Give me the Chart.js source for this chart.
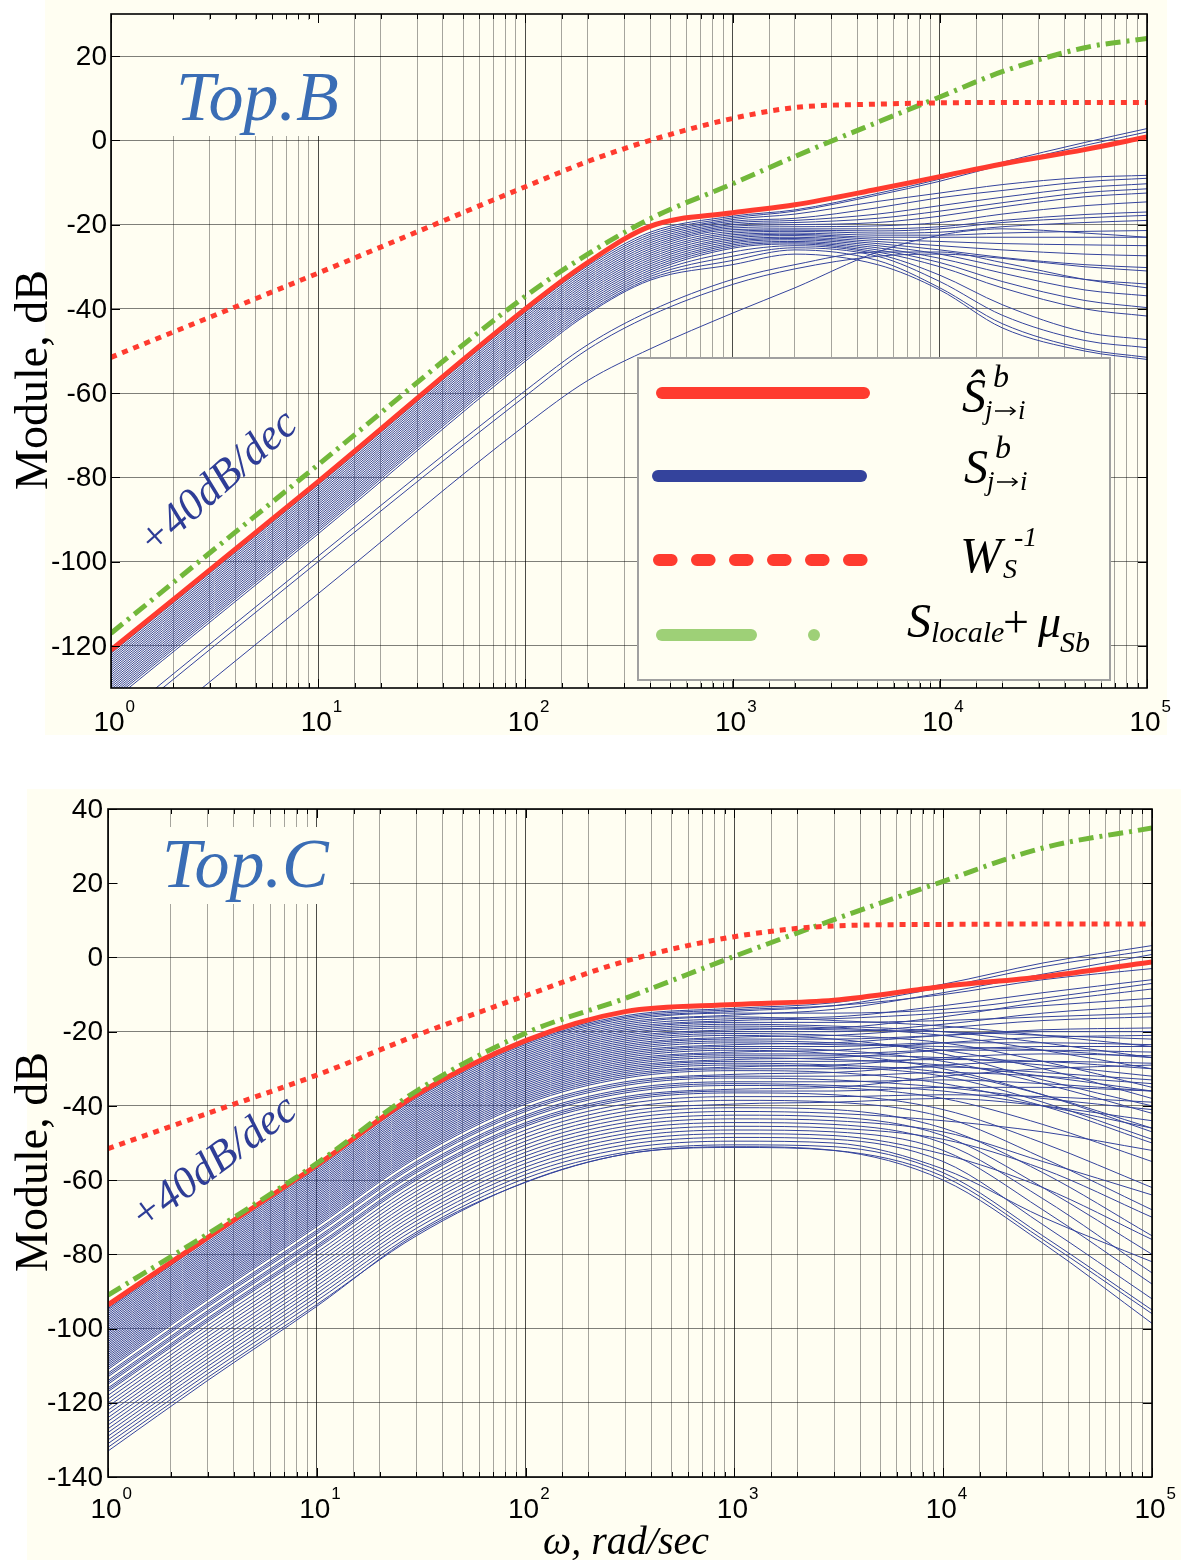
<!DOCTYPE html>
<html>
<head>
<meta charset="utf-8">
<script src="https://cdn.jsdelivr.net/npm/chart.js@4.4.1/dist/chart.umd.min.js"></script>
<style>
  html, body { margin: 0; padding: 0; background: #fff; }
  body { width: 1181px; height: 1560px; position: relative; overflow: hidden; }
  .panel { position: absolute; background: #FFFEF2; }
  .wrap { position: absolute; left: 0; width: 1181px; }
  canvas { display: block; }
</style>
</head>
<body>
<div class="panel" style="left:45px;top:0;width:1122px;height:735px"></div>
<div class="panel" style="left:27px;top:789px;width:1154px;height:771px"></div>
<div class="wrap" style="top:0;height:760px"><canvas id="chartB"></canvas></div>
<div class="wrap" style="top:760px;height:800px"><canvas id="chartC"></canvas></div>

<script>
// ---- données : Top.B ----
const W_TOP = [1, 10, 100, 200, 400, 1000, 2000, 5000, 1e4, 2e4, 5e4, 1e5];
const TOP_WS_INV   = [-51.5, -31.5, -11, -5, 0, 5.2, 7.8, 8.6, 8.9, 9, 9, 9];
const TOP_S_LOCALE = [-117, -77, -37, -27, -18.6, -10.3, -3.8, 4.3, 10.3, 16.3, 22, 24.2];
const TOP_S_HAT    = [-121, -81, -40, -29, -20.4, -17.2, -15.3, -11.6, -8.6, -5.6, -2.2, 0.8];
const TOP_S = [
  [-121.8, -81.8, -40.8, -29.8, -21.8, -18.0, -16.5, -12.6, -9.2, -5.2, -0.5, 2.8],
  [-122.3, -82.3, -41.3, -30.3, -22.3, -18.4, -16.8, -13.0, -9.7, -5.8, -1.2, 2.0],
  [-122.8, -82.8, -41.8, -30.8, -22.8, -18.8, -17.5, -14.5, -12.5, -10.5, -8.8, -8.3],
  [-123.3, -83.3, -42.3, -31.3, -23.3, -19.2, -18.5, -16.0, -13.6, -11.9, -9.8, -9.0],
  [-123.8, -83.8, -42.8, -31.8, -23.8, -19.6, -19.0, -17.5, -15.5, -13.5, -11.2, -10.3],
  [-124.3, -84.3, -43.3, -32.3, -24.3, -20.0, -19.5, -18.5, -16.8, -14.8, -12.4, -11.5],
  [-124.8, -84.8, -43.8, -32.8, -24.8, -20.4, -20.0, -19.5, -18.0, -15.8, -13.4, -12.5],
  [-125.3, -85.3, -44.3, -33.3, -25.3, -20.8, -20.5, -20.3, -19.5, -17.5, -15.5, -14.6],
  [-125.8, -85.8, -44.8, -33.8, -25.8, -21.2, -21.0, -21.0, -20.5, -19.0, -17.6, -17.0],
  [-126.3, -86.3, -45.3, -34.3, -26.3, -21.6, -21.3, -21.5, -21.0, -19.5, -18.4, -17.8],
  [-126.8, -86.8, -45.8, -34.8, -26.8, -22.0, -21.6, -22.0, -21.8, -20.5, -19.5, -19.0],
  [-127.3, -87.3, -46.3, -35.3, -27.3, -22.4, -22.0, -22.5, -22.5, -22.0, -21.6, -21.4],
  [-127.8, -87.8, -46.8, -35.8, -27.8, -22.8, -22.3, -23.0, -23.0, -23.0, -23.0, -23.0],
  [-128.3, -88.3, -47.3, -36.3, -28.3, -23.2, -22.6, -23.5, -24.0, -24.5, -24.8, -25.0],
  [-128.8, -88.8, -47.8, -36.8, -28.8, -23.6, -23.0, -24.0, -25.0, -26.0, -27.0, -27.4],
  [-129.3, -89.3, -48.3, -37.3, -29.3, -24.0, -23.3, -24.5, -26.0, -27.8, -29.5, -30.2],
  [-129.8, -89.8, -48.8, -37.8, -29.8, -24.4, -23.6, -25.0, -27.0, -30.0, -33.0, -34.1],
  [-130.3, -90.3, -49.3, -38.3, -30.3, -24.8, -24.0, -25.5, -28.0, -31.5, -35.5, -36.9],
  [-130.8, -90.8, -49.8, -38.8, -30.8, -25.2, -24.3, -26.0, -29.0, -33.5, -38.0, -39.7],
  [-131.3, -91.3, -50.3, -39.3, -31.3, -25.6, -24.6, -26.5, -30.0, -35.0, -40.0, -41.7],
  [-131.8, -91.8, -50.8, -39.8, -31.8, -26.5, -25.0, -27.0, -32.0, -39.0, -45.5, -47.3],
  [-132.3, -92.3, -51.3, -40.3, -32.3, -27.5, -25.5, -27.5, -33.5, -41.5, -47.5, -49.2],
  [-132.8, -92.8, -51.8, -40.8, -32.8, -28.5, -26.0, -28.5, -35.0, -43.5, -49.5, -51.5],
  [-133.4, -93.4, -52.4, -41.2, -33.2, -29.5, -27.0, -29.5, -35.5, -44.5, -50.0, -52.0],
  [-138.7, -98.7, -59.4, -48.5, -40.5, -33.0, -29.5, -26.5, -26.5, -29.0, -33.0, -35.0],
  [-140.0, -100.0, -60.7, -49.6, -41.6, -34.2, -30.5, -27.5, -27.0, -28.0, -30.0, -31.0],
  [-147.6, -107.6, -67.6, -57.0, -49.5, -41.0, -35.0, -26.5, -22.5, -21.0, -22.0, -23.0]
];
const TOP_Y_TICKS = [-120, -100, -80, -60, -40, -20, 0, 20];

// ---- données : Top.C ----
const W_BOT = [1, 3, 10, 30, 100, 300, 1000, 3000, 1e4, 3e4, 1e5];
const BOT_WS_INV   = [-51.5, -42, -31.7, -21, -10.3, -1, 5.6, 8.5, 8.9, 9, 9];
const BOT_S_LOCALE = [-91, -74.5, -55.5, -36, -20.4, -11, 0.3, 10.2, 20.5, 29.5, 34.9];
const BOT_S_HAT    = [-93.6, -75.5, -56, -37, -22.4, -14.6, -12.7, -11.5, -7.8, -5.2, -1.2];
const BOT_S = [
  [-94.2, -75.4, -55.7, -37.2, -22.7, -15.7, -13.7, -12.2, -7.2, -1.5, 3.2],
  [-94.6, -75.8, -56.1, -37.6, -23.1, -16.1, -14.1, -13, -10, -6, -3],
  [-95, -76.2, -56.5, -38, -23.5, -16.5, -14.5, -13, -8, -2.5, 2.0],
  [-95.5, -76.7, -57, -38.5, -24, -17, -15, -15, -14, -11, -7],
  [-96, -77.2, -57.5, -39, -24.5, -17.5, -15.5, -14, -9.5, -4.5, 0.8],
  [-96.5, -77.7, -58, -39.5, -25, -18, -16, -17, -18.5, -21, -24],
  [-97, -78.2, -58.5, -40, -25.5, -18.5, -16.5, -16, -13, -9.5, -6],
  [-97.5, -78.7, -59, -40.5, -26, -19, -17, -16.5, -15, -13, -11],
  [-98, -79.2, -59.5, -41, -26.5, -19.5, -17.5, -17.5, -17, -16, -15],
  [-98.5, -79.7, -60, -41.5, -27, -20, -18, -18.5, -20, -23, -27],
  [-99, -80.2, -60.5, -42, -27.5, -20.5, -18.5, -19, -21, -25, -30],
  [-99.5, -80.7, -61, -42.5, -28, -21, -19, -19.5, -20, -21, -22],
  [-100, -81.2, -61.5, -43, -28.5, -21.5, -19.5, -19, -16, -12, -8.5],
  [-100.5, -81.7, -62, -43.5, -29, -22, -20, -20, -18, -15, -13],
  [-101, -82.2, -62.5, -44, -29.5, -22.5, -20.5, -21, -23, -28, -35],
  [-101.5, -82.7, -63, -44.5, -30, -23, -21, -22, -26, -33, -40],
  [-102, -83.2, -63.5, -45, -30.5, -23.5, -21.5, -21, -19, -17, -16],
  [-102.5, -83.7, -64, -45.5, -31, -24, -22, -22, -21, -20, -20],
  [-103, -84.2, -64.5, -46, -31.5, -24.5, -22.5, -23, -25, -30, -38],
  [-103.5, -84.7, -65, -46.5, -32, -25, -23, -23.5, -24, -25, -27],
  [-104, -85.2, -65.5, -47, -32.5, -25.5, -23.5, -23, -21, -19.5, -19],
  [-104.5, -85.7, -66, -47.5, -33, -26, -24, -24, -23, -23, -23.5],
  [-105, -86.2, -66.5, -48, -33.5, -26.5, -24.5, -25, -28, -34, -42],
  [-105.5, -86.7, -67, -48.5, -34, -27, -25, -26, -30, -37, -47],
  [-106, -87.2, -67.5, -49, -34.5, -27.5, -25.5, -25, -23, -21.5, -21],
  [-106.5, -87.7, -68, -49.5, -35, -28, -26, -26, -25, -25, -25.5],
  [-107, -88.2, -68.5, -50, -35.5, -28.5, -26.5, -26.5, -27, -29, -32],
  [-107.5, -88.7, -69, -50.5, -36, -29, -27, -27.5, -29, -32, -36],
  [-108, -89.2, -69.5, -51, -36.5, -29.5, -27.5, -27, -25, -24, -24],
  [-108.5, -89.7, -70, -51.5, -37, -30, -28, -28, -27.5, -28, -30],
  [-109, -90.2, -70.5, -52, -37.5, -30.5, -28.5, -29, -31, -37, -46],
  [-109.5, -90.7, -71, -52.5, -38, -31, -29, -29.5, -32, -39, -49],
  [-110, -91.2, -71.5, -53, -38.5, -31.5, -29.5, -29, -27, -26, -26.5],
  [-110.5, -91.7, -72, -53.5, -39, -32, -30, -30, -29.5, -31, -33],
  [-111, -92.2, -72.5, -54, -39.5, -32.5, -30.5, -31, -34, -40, -50],
  [-112, -93.2, -73.5, -55, -40.5, -33.5, -31.5, -31, -29, -28, -28.5],
  [-112.5, -93.7, -74, -55.5, -41, -34, -32, -32, -31, -32, -34],
  [-113, -94.2, -74.5, -56, -41.5, -34.5, -32.5, -33, -35, -38, -41],
  [-114, -95.2, -75.5, -57, -42.5, -35.5, -33.5, -33.5, -33, -34, -36],
  [-114.5, -95.7, -76, -57.5, -43, -36, -34, -34.5, -36, -40, -46],
  [-115, -96.2, -76.5, -58, -43.5, -36.5, -34.5, -35, -38, -45, -55],
  [-116, -97.2, -77.5, -59, -44.5, -37.5, -35.5, -35, -32, -30, -29],
  [-116.5, -97.7, -78, -59.5, -45, -38, -36, -36, -35, -35, -36],
  [-117, -98.2, -78.5, -60, -45.5, -38.5, -36.5, -37, -41, -50, -62],
  [-118, -99.2, -79.5, -61, -46.5, -39.5, -37.5, -37.5, -37, -37.5, -39],
  [-119, -100.2, -80.5, -62, -47.5, -40.5, -38.5, -39, -43, -54, -68],
  [-120, -101.2, -81.5, -63, -48.5, -41.5, -39.5, -39, -38, -40, -44],
  [-121, -102.2, -82.5, -64, -49.5, -42.5, -40.5, -41, -46, -58, -75],
  [-122, -103.2, -83.5, -65, -50.5, -43.5, -41.5, -42, -44, -47, -52],
  [-123, -104.2, -84.5, -66, -51.5, -44.5, -42.5, -43, -48, -62, -80],
  [-124, -105.2, -85.5, -67, -52.5, -45.5, -43.5, -44, -47, -55, -64],
  [-125, -106.2, -86.5, -68, -53.5, -46.5, -44.5, -45, -50, -65, -85],
  [-126, -107.2, -87.5, -69, -54.5, -47.5, -45.5, -46, -49, -57, -70],
  [-127, -108.2, -88.5, -70, -55.5, -48.5, -46.5, -47, -52, -68, -88],
  [-128, -109.2, -89.5, -71, -56.5, -49.5, -47.5, -48, -53, -62, -76],
  [-129, -110.2, -90.5, -72, -57.5, -50.5, -48.5, -49, -55, -72, -92],
  [-130, -111.2, -91.5, -73, -58.5, -51.5, -49.5, -50, -57, -70, -82],
  [-131, -112.2, -92.5, -74, -59.5, -52.5, -50.5, -51, -58, -75, -95],
  [-132, -113.2, -93.5, -75, -60.5, -53, -51, -52, -60, -77, -98.6],
  [-133, -114, -94, -74.5, -60.6, -53, -51.2, -52, -59, -76, -96]
];
const BOT_Y_TICKS = [-140, -120, -100, -80, -60, -40, -20, 0, 20, 40];

const X_EXPONENTS = [0, 1, 2, 3, 4, 5];

// ---- styles ----
const CREAM = '#FFFEF2';
const RED = '#FF3B2F';
const BLUE = '#34439C';
const GREEN = '#72B83A';
const GREEN_LEG = '#9ED077';
const LABEL_BLUE = '#3A6DB5';
const NOTE_BLUE = '#2E3D96';
const FONT_TICK = '"Liberation Sans Narrow", "Arial Narrow", "Liberation Sans", Arial, sans-serif';
const FONT_SERIF = '"Liberation Serif", "DejaVu Serif", serif';

function pts(ws, ys) {
  return ws.map((w, i) => ({ x: w, y: ys[i] }));
}

function isDecade(v) {
  const l = Math.log10(v);
  return Math.abs(l - Math.round(l)) < 1e-9;
}

function buildDatasets(ws, wsInv, sLocale, sHat, sFamily) {
  const common = { pointRadius: 0, cubicInterpolationMode: 'monotone', clip: 0, fill: false };
  const sets = [
    { ...common, data: pts(ws, wsInv), borderColor: RED, borderWidth: 5, borderDash: [6, 6] },
    { ...common, data: pts(ws, sLocale), borderColor: GREEN, borderWidth: 5, borderDash: [15, 6, 3, 6] },
    { ...common, data: pts(ws, sHat), borderColor: RED, borderWidth: 5 }
  ];
  sFamily.forEach(row => {
    sets.push({ ...common, data: pts(ws, row), borderColor: BLUE, borderWidth: 1 });
  });
  return sets;
}

function txt(ctx, s, x, y, size, italic) {
  ctx.font = (italic ? 'italic ' : '') + size + 'px ' + FONT_SERIF;
  ctx.fillText(s, x, y);
}

// indice « j→i » avec une petite flèche dessinée
function jToI(ctx, x, y) {
  txt(ctx, 'j', x, y, 27, true);
  ctx.save();
  ctx.strokeStyle = '#000';
  ctx.lineWidth = 1.6;
  ctx.lineCap = 'butt';
  const ay = y - 8;
  ctx.beginPath();
  ctx.moveTo(x + 10, ay); ctx.lineTo(x + 30, ay);
  ctx.moveTo(x + 25, ay - 4); ctx.lineTo(x + 30, ay); ctx.lineTo(x + 25, ay + 4);
  ctx.stroke();
  ctx.restore();
  txt(ctx, 'i', x + 33, y, 27, true);
}

function drawLegend(ctx) {
  ctx.save();
  ctx.fillStyle = CREAM;
  ctx.fillRect(638, 358, 472, 322);
  ctx.strokeStyle = '#A0A0A0';
  ctx.lineWidth = 2;
  ctx.strokeRect(638, 358, 472, 322);

  ctx.lineCap = 'round';
  ctx.lineWidth = 12;
  ctx.strokeStyle = RED;
  ctx.beginPath(); ctx.moveTo(662, 393); ctx.lineTo(864, 393); ctx.stroke();
  ctx.strokeStyle = BLUE;
  ctx.beginPath(); ctx.moveTo(658, 476); ctx.lineTo(861, 476); ctx.stroke();
  ctx.strokeStyle = RED;
  ctx.setLineDash([12.6, 25.4]);
  ctx.beginPath(); ctx.moveTo(659, 560); ctx.lineTo(862, 560); ctx.stroke();
  ctx.setLineDash([]);
  ctx.strokeStyle = GREEN_LEG;
  ctx.beginPath(); ctx.moveTo(662, 635); ctx.lineTo(751, 635); ctx.stroke();
  ctx.fillStyle = GREEN_LEG;
  ctx.beginPath(); ctx.arc(814, 635, 6, 0, Math.PI * 2); ctx.fill();

  ctx.fillStyle = '#000';
  ctx.textAlign = 'left';
  ctx.textBaseline = 'alphabetic';
  txt(ctx, 'Ŝ', 962, 412, 48, true);
  txt(ctx, 'b', 993, 387, 32, true);
  jToI(ctx, 985, 419);

  txt(ctx, 'S', 964, 483, 48, true);
  txt(ctx, 'b', 995, 458, 32, true);
  jToI(ctx, 987, 490);

  txt(ctx, 'W', 960, 572, 50, true);
  txt(ctx, 'S', 1003, 578, 28, true);
  txt(ctx, '-1', 1014, 546, 28, true);

  txt(ctx, 'S', 907, 637, 48, true);
  txt(ctx, 'locale', 931, 642, 30, true);
  txt(ctx, '+', 1003, 637, 46, false);
  txt(ctx, 'μ', 1038, 637, 46, true);
  txt(ctx, 'Sb', 1060, 652, 30, true);
  ctx.restore();
}

function makeDecor(cfg) {
  return {
    id: 'decor',
    beforeDatasetsDraw(chart) {
      const { ctx, scales: { y }, chartArea: a } = chart;
      const b = cfg.labelBox;
      ctx.save();
      ctx.fillStyle = CREAM;
      ctx.fillRect(b[0], b[1], b[2] - b[0], b[3] - b[1]);
      if (cfg.keepLine !== undefined) {
        const py = Math.round(y.getPixelForValue(cfg.keepLine)) + 0.5;
        ctx.strokeStyle = 'rgba(0,0,0,0.5)';
        ctx.lineWidth = 1;
        ctx.beginPath(); ctx.moveTo(a.left, py); ctx.lineTo(a.right, py); ctx.stroke();
      }
      ctx.fillStyle = LABEL_BLUE;
      ctx.font = 'italic 70px ' + FONT_SERIF;
      ctx.textAlign = 'left';
      ctx.textBaseline = 'alphabetic';
      ctx.fillText(cfg.label, cfg.labelX, cfg.labelY);
      ctx.restore();
    },
    afterDatasetsDraw(chart) {
      const { ctx } = chart;
      ctx.save();
      ctx.translate(cfg.noteX, cfg.noteY);
      ctx.rotate(cfg.noteAngle * Math.PI / 180);
      ctx.fillStyle = NOTE_BLUE;
      ctx.font = 'italic 44px ' + FONT_SERIF;
      ctx.textAlign = 'left';
      ctx.textBaseline = 'alphabetic';
      ctx.fillText('+40dB/dec', 0, 0);
      ctx.restore();
      if (cfg.legend) drawLegend(ctx);
    },
    afterDraw(chart) {
      const { ctx, chartArea: a, scales: { x, y } } = chart;
      ctx.save();
      // graduations intérieures
      ctx.strokeStyle = '#000';
      ctx.lineWidth = 1;
      x.ticks.forEach(t => {
        const px = Math.round(x.getPixelForValue(t.value)) + 0.5;
        const len = isDecade(t.value) ? 9 : 5;
        ctx.beginPath();
        ctx.moveTo(px, a.bottom); ctx.lineTo(px, a.bottom - len);
        ctx.moveTo(px, a.top); ctx.lineTo(px, a.top + len);
        ctx.stroke();
      });
      cfg.yTicks.forEach(v => {
        const py = Math.round(y.getPixelForValue(v)) + 0.5;
        ctx.beginPath();
        ctx.moveTo(a.left, py); ctx.lineTo(a.left + 9, py);
        ctx.moveTo(a.right, py); ctx.lineTo(a.right - 9, py);
        ctx.stroke();
      });
      // cadre
      ctx.lineWidth = 1.6;
      ctx.strokeRect(a.left, a.top, a.right - a.left, a.bottom - a.top);

      // étiquettes Y
      ctx.fillStyle = '#000';
      ctx.font = '28px ' + FONT_TICK;
      ctx.textAlign = 'right';
      ctx.textBaseline = 'middle';
      cfg.yTicks.forEach(v => {
        ctx.fillText(String(v), a.left - cfg.yLabelGap, y.getPixelForValue(v) + 1);
      });
      // étiquettes X : 10^n
      X_EXPONENTS.forEach(e => {
        const px = x.getPixelForValue(Math.pow(10, e));
        ctx.font = '28px ' + FONT_TICK;
        ctx.textAlign = 'center';
        ctx.textBaseline = 'alphabetic';
        ctx.fillText('10', px - 2, cfg.xLabelY);
        const w = ctx.measureText('10').width;
        ctx.font = '17px ' + FONT_TICK;
        ctx.textAlign = 'left';
        ctx.fillText(String(e), px - 2 + w / 2 + 1, cfg.xLabelY - 19);
      });
      // titre Y
      ctx.save();
      ctx.translate(47, cfg.yTitleY);
      ctx.rotate(-Math.PI / 2);
      ctx.font = '46px ' + FONT_SERIF;
      ctx.textAlign = 'center';
      ctx.textBaseline = 'alphabetic';
      ctx.fillText('Module, dB', 0, 0);
      ctx.restore();
      // titre X
      if (cfg.xTitle) {
        ctx.font = 'italic 40px ' + FONT_SERIF;
        ctx.textAlign = 'center';
        ctx.textBaseline = 'alphabetic';
        ctx.fillText(cfg.xTitle, 626, cfg.xTitleY);
      }
      ctx.restore();
    }
  };
}

function makeChart(id, datasets, yMin, yMax, yTicks, padding, decor) {
  return new Chart(document.getElementById(id), {
    type: 'line',
    data: { datasets },
    options: {
      responsive: true,
      maintainAspectRatio: false,
      animation: false,
      devicePixelRatio: 1,
      layout: { padding },
      plugins: { legend: { display: false }, tooltip: { enabled: false } },
      scales: {
        x: {
          type: 'logarithmic',
          min: 1,
          max: 1e5,
          border: { display: false },
          ticks: { display: false, autoSkip: false },
          grid: {
            drawTicks: false,
            lineWidth: 1,
            color: c => (c.tick && isDecade(c.tick.value)) ? 'rgba(0,0,0,0.7)' : 'rgba(0,0,0,0.35)'
          }
        },
        y: {
          type: 'linear',
          min: yMin,
          max: yMax,
          afterBuildTicks: s => { s.ticks = yTicks.map(v => ({ value: v })); },
          border: { display: false },
          ticks: { display: false },
          grid: { drawTicks: false, lineWidth: 1, color: 'rgba(0,0,0,0.5)' }
        }
      }
    },
    plugins: [makeDecor(decor)]
  });
}

makeChart('chartB',
  buildDatasets(W_TOP, TOP_WS_INV, TOP_S_LOCALE, TOP_S_HAT, TOP_S),
  -130, 30, TOP_Y_TICKS,
  { left: 111, top: 14, right: 34, bottom: 72 },
  {
    label: 'Top.B', labelX: 176, labelY: 120, labelBox: [112, 20, 320, 136], keepLine: 20,
    noteX: 153, noteY: 557, noteAngle: -41.5,
    legend: true, yTicks: TOP_Y_TICKS, yLabelGap: 4, xLabelY: 731, yTitleY: 380
  });

makeChart('chartC',
  buildDatasets(W_BOT, BOT_WS_INV, BOT_S_LOCALE, BOT_S_HAT, BOT_S),
  -140, 40, BOT_Y_TICKS,
  { left: 108, top: 49, right: 29, bottom: 83 },
  {
    label: 'Top.C', labelX: 162, labelY: 127, labelBox: [118, 67, 350, 144],
    noteX: 143, noteY: 472, noteAngle: -37,
    legend: false, yTicks: BOT_Y_TICKS, yLabelGap: 5, xLabelY: 758, yTitleY: 402,
    xTitle: 'ω, rad/sec', xTitleY: 794
  });
</script>
</body>
</html>
